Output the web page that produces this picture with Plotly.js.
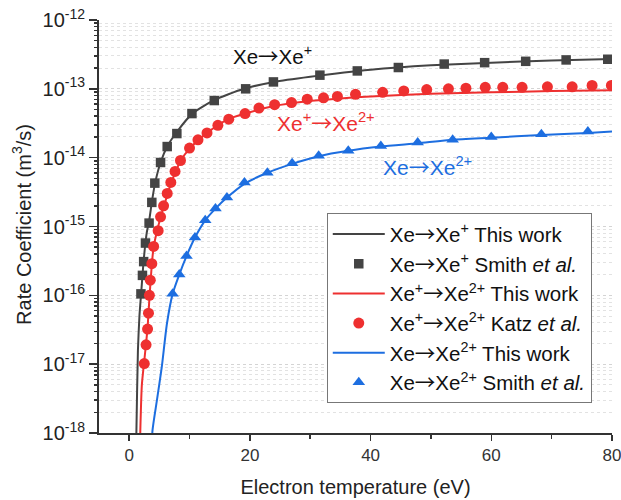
<!DOCTYPE html>
<html>
<head>
<meta charset="utf-8">
<script src="https://cdn.plot.ly/plotly-2.35.2.min.js"></script>
<style>html,body{margin:0;padding:0;background:#fff;}#chart{width:621px;height:500px;}</style>
</head>
<body>
<div id="chart"></div>
<script>
// ---- Xe -> Xe+ ----
const xeXe1LineT = [1.1, 1.2, 1.45, 1.7, 2.0, 2.4, 2.9, 3.3, 3.8, 4.3, 5.2, 6.3, 7.8, 10.5, 14, 19, 24, 30, 40, 50, 60, 70, 80];
const xeXe1LineK = [3e-19, 1.1e-18, 1.6e-17, 5e-17, 1.12e-16, 3.2e-16, 8e-16, 1.2e-15, 2.4e-15, 4.3e-15, 8.5e-15, 1.45e-14, 2.3e-14, 4.4e-14, 6.8e-14, 1.0e-13, 1.26e-13, 1.5e-13, 1.9e-13, 2.2e-13, 2.4e-13, 2.58e-13, 2.72e-13];
const xeXe1SmithT = [1.95, 2.2, 2.4, 2.7, 3.3, 3.75, 4.25, 5.2, 6.3, 7.9, 10.4, 14.1, 19.3, 23.9, 31.6, 37.8, 44.6, 52.2, 58.9, 65.7, 72.4, 79.3];
const xeXe1SmithK = [1.05e-16, 1.95e-16, 3.09e-16, 5.75e-16, 1.12e-15, 2.24e-15, 4.27e-15, 8.51e-15, 1.45e-14, 2.24e-14, 4.37e-14, 6.76e-14, 1.0e-13, 1.26e-13, 1.58e-13, 1.82e-13, 2.04e-13, 2.29e-13, 2.40e-13, 2.51e-13, 2.63e-13, 2.69e-13];

// ---- Xe+ -> Xe2+ ----
const xe1Xe2LineT = [1.7, 1.85, 2.1, 2.5, 2.8, 3.05, 3.35, 3.75, 4.05, 4.8, 5.7, 6.9, 8.5, 10, 12.9, 16.2, 19.2, 24, 29.5, 35, 40, 50, 60, 70, 80];
const xe1Xe2LineK = [2.5e-19, 1.12e-18, 5e-18, 1.12e-17, 2e-17, 3.4e-17, 8.9e-17, 2.8e-16, 5e-16, 1e-15, 1.9e-15, 4.17e-15, 8.9e-15, 1.35e-14, 2.29e-14, 3.55e-14, 4.37e-14, 5.62e-14, 6.6e-14, 7.24e-14, 7.76e-14, 8.5e-14, 8.9e-14, 9.3e-14, 9.55e-14];
const xe1Xe2KatzT = [2.5, 2.8, 3.05, 3.2, 3.35, 3.5, 3.75, 4.05, 4.8, 5.2, 5.7, 6.3, 6.9, 7.6, 8.5, 10.0, 11.4, 12.9, 14.7, 16.5, 19.2, 21.5, 24.1, 26.9, 29.5, 32.2, 34.5, 37.5, 42.0, 45.5, 49.3, 52.9, 55.8, 59.0, 61.9, 65.1, 69.3, 73.4, 76.7, 79.9];
const xe1Xe2KatzK = [1.02e-17, 1.91e-17, 3.24e-17, 5.5e-17, 1.0e-16, 1.66e-16, 2.88e-16, 5.13e-16, 8.7e-16, 1.38e-15, 2.0e-15, 3.02e-15, 4.37e-15, 6.31e-15, 9.1e-15, 1.38e-14, 1.82e-14, 2.29e-14, 2.95e-14, 3.63e-14, 4.37e-14, 5.25e-14, 5.89e-14, 6.31e-14, 7.08e-14, 7.41e-14, 7.76e-14, 8.32e-14, 8.91e-14, 9.33e-14, 9.77e-14, 1.0e-13, 1.02e-13, 1.05e-13, 1.05e-13, 1.05e-13, 1.07e-13, 1.07e-13, 1.12e-13, 1.12e-13];

// ---- Xe -> Xe2+ ----
const xeXe2LineT = [3.6, 3.87, 4.6, 5.4, 6.26, 7.2, 8.3, 9.5, 10.9, 12.6, 14.3, 16.2, 19.1, 22.9, 27, 31.4, 36.3, 41.7, 47.8, 53.6, 60, 68.3, 76, 80];
const xeXe2LineK = [3.2e-19, 1.1e-18, 3.0e-18, 9.1e-18, 3.9e-17, 1.05e-16, 2.0e-16, 3.72e-16, 6.92e-16, 1.23e-15, 1.82e-15, 2.63e-15, 4.17e-15, 6.03e-15, 8.13e-15, 1.05e-14, 1.26e-14, 1.45e-14, 1.62e-14, 1.82e-14, 1.95e-14, 2.14e-14, 2.29e-14, 2.4e-14];
const xeXe2SmithT = [7.2, 8.3, 9.5, 10.9, 12.6, 14.3, 16.2, 19.1, 22.9, 27.0, 31.4, 36.3, 41.7, 47.8, 53.6, 60.0, 68.3, 76.0];
const xeXe2SmithK = [1.05e-16, 2.0e-16, 3.72e-16, 6.92e-16, 1.23e-15, 1.82e-15, 2.63e-15, 4.37e-15, 6.03e-15, 8.32e-15, 1.07e-14, 1.26e-14, 1.48e-14, 1.66e-14, 1.82e-14, 2.0e-14, 2.19e-14, 2.4e-14];

const yTickVals = [1e-18, 1e-17, 1e-16, 1e-15, 1e-14, 1e-13, 1e-12];
const yTickText = ['10<sup>-18</sup>', '10<sup>-17</sup>', '10<sup>-16</sup>', '10<sup>-15</sup>', '10<sup>-14</sup>', '10<sup>-13</sup>', '10<sup>-12</sup>'];
const xTickVals = [0, 20, 40, 60, 80];

const ARROW = '<span style="font-family:\'Noto Sans CJK SC\'">→</span>';
const legendNames = [
  'Xe' + ARROW + 'Xe<sup>+</sup> This work',
  'Xe' + ARROW + 'Xe<sup>+</sup> Smith <i>et al.</i>',
  'Xe<sup>+</sup>' + ARROW + 'Xe<sup>2+</sup> This work',
  'Xe<sup>+</sup>' + ARROW + 'Xe<sup>2+</sup> Katz <i>et al.</i>',
  'Xe' + ARROW + 'Xe<sup>2+</sup> This work',
  'Xe' + ARROW + 'Xe<sup>2+</sup> Smith <i>et al.</i>'
];
const labelTexts = ['Xe' + ARROW + 'Xe<sup>+</sup>', 'Xe<sup>+</sup>' + ARROW + 'Xe<sup>2+</sup>', 'Xe' + ARROW + 'Xe<sup>2+</sup>'];

const cBlack = '#444444', cRed = '#ee3030', cBlue = '#1d6ee0';
const FONT = 'Liberation Sans, Arial, Helvetica, sans-serif';

const traces = [
  {x: xeXe1LineT, y: xeXe1LineK, mode: 'lines', name: legendNames[0], line: {color: cBlack, width: 2, shape: 'spline', smoothing: 0.6}},
  {x: xeXe1SmithT, y: xeXe1SmithK, mode: 'markers', name: legendNames[1], marker: {symbol: 'square', size: 9.5, color: cBlack}},
  {x: xe1Xe2LineT, y: xe1Xe2LineK, mode: 'lines', name: legendNames[2], line: {color: cRed, width: 2, shape: 'spline', smoothing: 0.6}},
  {x: xe1Xe2KatzT, y: xe1Xe2KatzK, mode: 'markers', name: legendNames[3], marker: {symbol: 'circle', size: 11, color: cRed}},
  {x: xeXe2LineT, y: xeXe2LineK, mode: 'lines', name: legendNames[4], line: {color: cBlue, width: 2, shape: 'spline', smoothing: 0.6}},
  {x: xeXe2SmithT, y: xeXe2SmithK, mode: 'markers', name: legendNames[5], marker: {symbol: 'triangle-up', size: 11, color: cBlue}}
];

const layout = {
  width: 621, height: 500,
  margin: {l: 99, r: 9, t: 20, b: 67},
  paper_bgcolor: '#ffffff', plot_bgcolor: '#ffffff',
  font: {family: FONT, size: 20, color: '#222'},
  showlegend: true,
  legend: {
    x: 0.444, y: 0.532, xanchor: 'left', yanchor: 'top',
    bgcolor: '#ffffff', bordercolor: '#777777', borderwidth: 1,
    itemwidth: 52,
    font: {family: FONT, size: 20.5, color: '#111'}
  },
  xaxis: {
    range: [-5, 80.001], tickvals: xTickVals, ticks: 'outside', ticklen: 6, tickwidth: 1.5, tickcolor: '#333',
    showline: true, linecolor: '#333', linewidth: 2, mirror: false, zeroline: false,
    showgrid: false, ticklabeloverflow: 'allow',
    minor: {dtick: 10, tick0: 0, ticks: 'outside', ticklen: 4, tickcolor: '#333', showgrid: false},
    tickfont: {family: FONT, size: 17, color: '#333'},
    title: {text: 'Electron temperature (eV)', font: {family: FONT, size: 20, color: '#222'}, standoff: 16}
  },
  yaxis: {
    type: 'log', range: [-18, -12], tickvals: yTickVals, ticktext: yTickText,
    ticks: 'outside', ticklen: 8, tickwidth: 1.5, tickcolor: '#333',
    showline: true, linecolor: '#333', linewidth: 2, mirror: false, zeroline: false,
    showgrid: true, gridcolor: '#d4d4d4', griddash: 'dot', gridwidth: 1,
    minor: {dtick: 'D1', ticks: 'outside', ticklen: 3, tickcolor: '#333', showgrid: true, gridcolor: '#e2e2e2', griddash: 'dot', gridwidth: 1},
    tickfont: {family: FONT, size: 20, color: '#222'}
  },
  annotations: [
    {xref: 'paper', yref: 'paper', x: -0.15, y: 0.504, text: 'Rate Coefficient (m<sup>3</sup>/s)', textangle: -90, showarrow: false,
     font: {family: FONT, size: 20, color: '#222'}, xanchor: 'center', yanchor: 'middle'},
    {xref: 'paper', yref: 'paper', x: (272 - 99) / 513, y: (433 - 55) / 413, text: labelTexts[0], showarrow: false,
     font: {family: FONT, size: 20.5, color: '#111'}, xanchor: 'center', yanchor: 'middle'},
    {xref: 'paper', yref: 'paper', x: (326 - 99) / 513, y: (433 - 122) / 413, text: labelTexts[1], showarrow: false,
     font: {family: FONT, size: 21, color: cRed}, xanchor: 'center', yanchor: 'middle'},
    {xref: 'paper', yref: 'paper', x: (427 - 99) / 513, y: (433 - 166) / 413, text: labelTexts[2], showarrow: false,
     font: {family: FONT, size: 21, color: cBlue}, xanchor: 'center', yanchor: 'middle'}
  ]
};

Plotly.newPlot('chart', traces, layout, {displayModeBar: false, staticPlot: true});
</script>
</body>
</html>
